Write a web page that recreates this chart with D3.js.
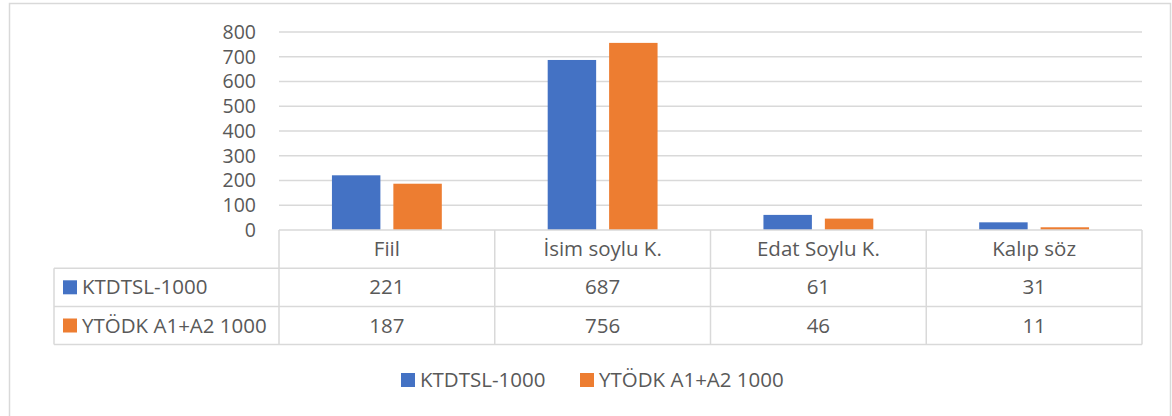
<!DOCTYPE html>
<html lang="tr">
<head>
<meta charset="utf-8">
<title>KTDTSL vs YTÖDK</title>
<script src="https://d3js.org/d3.v7.min.js"></script>
<style>
  body, html { margin: 0; background: #fff; }
  svg { display: block; font-family: "Open Sans", "Noto Sans", sans-serif; }
  text { fill: #595959; }
</style>
</head>
<body>
<svg width="1172" height="416"></svg>
<script>
// data
var categories = ["Fiil", "İsim soylu K.", "Edat Soylu K.", "Kalıp söz"];
var seriesNames = ["KTDTSL-1000", "YTÖDK A1+A2 1000"];
var ktdtsl = [221, 687, 61, 31];
var ytodk = [187, 756, 46, 11];
var yTicks = [0, 100, 200, 300, 400, 500, 600, 700, 800];
var colors = ["#4472C4", "#ED7D31"];

var values = [ktdtsl, ytodk];
var grid = "#d9d9d9";

var svg = d3.select("svg");

// outer frame
svg.append("rect")
  .attr("x", 9.5).attr("y", 3.5)
  .attr("width", 1161).attr("height", 430)
  .attr("fill", "none").attr("stroke", grid).attr("stroke-width", 1.5);

var plotLeft = 279, plotRight = 1142, plotTop = 32, plotBottom = 230;
var rowH = 38.2, tableLeft = 54;

var x0 = d3.scaleBand().domain(categories).range([plotLeft, plotRight]).padding(0);
var x1 = d3.scaleBand().domain(seriesNames).range([0, x0.bandwidth()])
  .paddingInner(0.211).paddingOuter(0.862);
var y = d3.scaleLinear().domain([0, 800]).range([plotBottom, plotTop]);

var fs = 20.5;

// gridlines
svg.append("g").selectAll("line").data(yTicks.filter(function(d){ return d > 0; }))
  .enter().append("line")
  .attr("x1", plotLeft).attr("x2", plotRight)
  .attr("y1", function(d){ return y(d); }).attr("y2", function(d){ return y(d); })
  .attr("stroke", grid).attr("stroke-width", 1.3);

// y axis labels
var yAxis = d3.axisLeft(y).tickValues(yTicks).tickSize(0).tickPadding(0);
var ga = svg.append("g").attr("transform", "translate(256,0)").call(yAxis);
ga.select(".domain").remove();
ga.selectAll("text").attr("font-size", 19.5).attr("fill", "#595959")
  .style("font-family", "'Open Sans', sans-serif");

// bars
svg.append("g").selectAll("g").data(categories).enter().append("g")
  .attr("transform", function(d){ return "translate(" + x0(d) + ",0)"; })
  .selectAll("rect")
  .data(function(d, i){ return seriesNames.map(function(s, j){ return {s: s, v: values[j][i], j: j}; }); })
  .enter().append("rect")
  .attr("x", function(d){ return x1(d.s); })
  .attr("width", x1.bandwidth())
  .attr("y", function(d){ return y(d.v); })
  .attr("height", function(d){ return plotBottom - y(d.v); })
  .attr("fill", function(d){ return colors[d.j]; });

// data table
var t = svg.append("g").attr("stroke", grid).attr("stroke-width", 1.5);
var r0 = plotBottom, r1 = r0 + rowH, r2 = r1 + rowH, r3 = r2 + rowH;
t.append("line").attr("x1", plotLeft).attr("x2", plotRight).attr("y1", r0).attr("y2", r0);
[r1, r2, r3].forEach(function(yy){
  t.append("line").attr("x1", tableLeft).attr("x2", plotRight).attr("y1", yy).attr("y2", yy);
});
t.append("line").attr("x1", tableLeft).attr("x2", tableLeft).attr("y1", r1).attr("y2", r3);
categories.forEach(function(c){
  t.append("line").attr("x1", x0(c)).attr("x2", x0(c)).attr("y1", r0).attr("y2", r3);
});
t.append("line").attr("x1", plotRight).attr("x2", plotRight).attr("y1", r0).attr("y2", r3);

svg.append("g").selectAll("text").data(categories).enter().append("text")
  .attr("x", function(d){ return x0(d) + x0.bandwidth() / 2; })
  .attr("y", (r0 + r1) / 2)
  .attr("dy", "0.35em").attr("text-anchor", "middle").attr("font-size", fs)
  .text(function(d){ return d; });

seriesNames.forEach(function(s, j){
  var cy = r1 + rowH * j + rowH / 2;
  svg.append("rect").attr("x", 63).attr("y", cy - 7).attr("width", 14).attr("height", 14)
    .attr("fill", colors[j]);
  svg.append("text").attr("x", 82).attr("y", cy).attr("dy", "0.35em")
    .attr("font-size", fs).text(s);
  svg.append("g").selectAll("text").data(values[j]).enter().append("text")
    .attr("x", function(d, i){ return x0(categories[i]) + x0.bandwidth() / 2; })
    .attr("y", cy).attr("dy", "0.35em").attr("text-anchor", "middle")
    .attr("font-size", fs).text(function(d){ return d; });
});

// bottom legend
var legendX = [401, 580];
seriesNames.forEach(function(s, j){
  svg.append("rect").attr("x", legendX[j]).attr("y", 373).attr("width", 14).attr("height", 14)
    .attr("fill", colors[j]);
  svg.append("text").attr("x", legendX[j] + 19).attr("y", 380).attr("dy", "0.35em")
    .attr("font-size", fs).text(s);
});
</script>
</body>
</html>
